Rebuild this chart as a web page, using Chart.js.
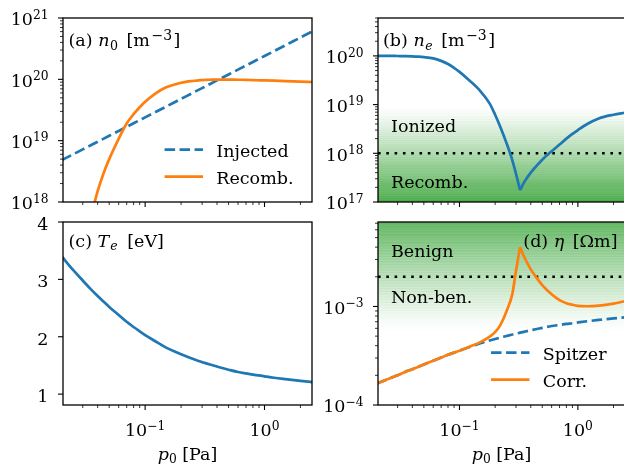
<!DOCTYPE html>
<html>
<head>
<meta charset="utf-8">
<title>n0, ne, Te, eta vs p0</title>
<script src="https://cdn.jsdelivr.net/npm/chart.js@4.4.1/dist/chart.umd.min.js"></script>
<style>
  html, body { margin: 0; padding: 0; background: #fff; }
  #fig { position: relative; width: 624px; height: 468px; overflow: hidden; }
  #fig canvas { position: absolute; left: 0; top: 0; }
</style>
</head>
<body>
<div id="fig">
  <canvas id="chartN0" width="640" height="468"></canvas>
  <canvas id="chartNe" width="640" height="468"></canvas>
  <canvas id="chartTe" width="640" height="468"></canvas>
  <canvas id="chartEta" width="640" height="468"></canvas>
</div>
<script>
// pressure p0 [Pa] (x axis of every panel)
const pressure = [0.02, 0.025, 0.03, 0.035, 0.04, 0.045, 0.05, 0.06, 0.07, 0.08, 0.09, 0.1,
    0.12, 0.15, 0.18, 0.2, 0.22, 0.25, 0.28, 0.3, 0.325, 0.35, 0.4, 0.45, 0.5, 0.6, 0.7, 0.8,
    0.9, 1.0, 1.2, 1.5, 2.0, 2.5];

// (a) neutral density [m^-3]
const n0Injected = [4.8e18, 6.0e18, 7.2e18, 8.4e18, 9.6e18, 1.08e19, 1.2e19, 1.44e19, 1.68e19,
    1.92e19, 2.16e19, 2.4e19, 2.88e19, 3.6e19, 4.32e19, 4.8e19, 5.28e19, 6.0e19, 6.72e19, 7.2e19,
    7.8e19, 8.4e19, 9.6e19, 1.08e20, 1.2e20, 1.44e20, 1.68e20, 1.92e20, 2.16e20, 2.4e20, 2.88e20,
    3.6e20, 4.8e20, 6.0e20];
const n0Recomb = [null, null, null, 5.6e17, 1.5e18, 3.0e18, 5.0e18, 1.07e19, 1.9e19, 2.7e19,
    3.5e19, 4.3e19, 5.75e19, 7.4e19, 8.3e19, 8.8e19, 9.1e19, 9.4e19, 9.65e19, 9.7e19, 9.8e19,
    9.85e19, 9.9e19, 9.9e19, 9.9e19, 9.85e19, 9.8e19, 9.7e19, 9.65e19, 9.6e19, 9.5e19, 9.35e19,
    9.2e19, 9.05e19];

// (b) electron density [m^-3]
const neValues = [1.0e20, 1.0e20, 9.95e19, 9.9e19, 9.8e19, 9.65e19, 9.45e19, 8.9e19, 7.9e19,
    6.8e19, 5.7e19, 4.7e19, 3.2e19, 1.9e19, 1.05e19, 6.2e18, 3.6e18, 1.6e18, 7.1e17, 3.8e17,
    1.75e17, 2.5e17, 4.0e17, 5.6e17, 7.4e17, 1.1e18, 1.51e18, 2.0e18, 2.5e18, 3.0e18, 4.0e18,
    5.2e18, 6.2e18, 6.8e18];

// (c) electron temperature [eV]
const teValues = [3.40, 3.16, 2.98, 2.83, 2.71, 2.61, 2.52, 2.38, 2.26, 2.17, 2.095, 2.03, 1.93,
    1.81, 1.735, 1.695, 1.66, 1.615, 1.578, 1.558, 1.535, 1.515, 1.48, 1.45, 1.425, 1.385, 1.36,
    1.34, 1.325, 1.31, 1.285, 1.26, 1.23, 1.21];

// (d) resistivity [Ohm m]
const etaSpitzer = [1.645e-4, 1.84e-4, 2.00e-4, 2.17e-4, 2.31e-4, 2.45e-4, 2.58e-4, 2.81e-4,
    3.03e-4, 3.23e-4, 3.40e-4, 3.56e-4, 3.85e-4, 4.24e-4, 4.52e-4, 4.68e-4, 4.82e-4, 5.02e-4,
    5.20e-4, 5.30e-4, 5.42e-4, 5.53e-4, 5.73e-4, 5.90e-4, 6.07e-4, 6.33e-4, 6.50e-4, 6.65e-4,
    6.76e-4, 6.88e-4, 7.08e-4, 7.30e-4, 7.57e-4, 7.74e-4];
const etaCorr = [1.645e-4, 1.84e-4, 2.00e-4, 2.17e-4, 2.31e-4, 2.45e-4, 2.58e-4, 2.81e-4,
    3.03e-4, 3.23e-4, 3.40e-4, 3.56e-4, 3.88e-4, 4.35e-4, 4.95e-4, 5.5e-4, 6.4e-4, 9.0e-4,
    1.35e-3, 2.3e-3, 4.0e-3, 3.23e-3, 2.38e-3, 1.94e-3, 1.65e-3, 1.33e-3, 1.16e-3, 1.08e-3,
    1.04e-3, 1.015e-3, 1.005e-3, 1.02e-3, 1.07e-3, 1.13e-3];

// index of the sharp corner (minimum of n_e / peak of eta)
const cornerIndex = 20;

// tick labels (powers of ten as exponents)
const xTickExp = [-1, 0];
const n0TickExp = [18, 19, 20, 21];
const neTickExp = [17, 18, 19, 20];
const teTicks = [1, 2, 3, 4];
const etaTickExp = [-4, -3];

// thresholds (dotted lines)
const neThreshold = 1e18;
const etaThreshold = 2e-3;

const BLUE = '#1f77b4';
const ORANGE = '#ff7f0e';
const FONT = '"DejaVu Serif", serif';
const FS = 17.5;
const MINUS = '\u2212';

function font(size, italic) {
    return (italic ? 'italic ' : '') + size + 'px ' + FONT;
}

// text with sub/superscripts: segs = [{t, it, sub, sup, sc, pad}]
function richText(ctx, x, y, segs, align) {
    const parts = segs.map(s => {
        const sz = (s.sub || s.sup) ? FS * (s.sc || 0.7) : FS;
        ctx.font = font(sz, s.it);
        return { s: s, sz: sz, w: ctx.measureText(s.t).width + (s.pad || 0) };
    });
    const total = parts.reduce((acc, p) => acc + p.w, 0);
    let cx = align === 'right' ? x - total : align === 'center' ? x - total / 2 : x;
    ctx.textAlign = 'left';
    ctx.textBaseline = 'alphabetic';
    ctx.fillStyle = '#000';
    parts.forEach(p => {
        ctx.font = font(p.sz, p.s.it);
        const dy = p.s.sub ? FS * 0.2 : p.s.sup ? -FS * 0.37 : 0;
        ctx.fillText(p.s.t, cx, y + dy);
        cx += p.w;
    });
    return total;
}

function pow10(e) {
    return [{ t: '10' }, { t: String(e).replace('-', MINUS), sup: true }];
}

function textWidth(ctx, str) {
    ctx.font = font(FS);
    return ctx.measureText(str).width;
}

// 1..9 x 10^n positions inside the range
function logTicks(min, max) {
    const out = [];
    for (let e = Math.floor(Math.log10(min)); e <= Math.ceil(Math.log10(max)); e++) {
        for (let k = 1; k <= 9; k++) {
            const v = k * Math.pow(10, e);
            if (v >= min * 0.9999 && v <= max * 1.0001) out.push({ v: v, major: k === 1 });
        }
    }
    return out;
}

const decoPlugin = {
    id: 'deco',
    beforeDatasetsDraw(chart, args, o) {
        const ctx = chart.ctx, a = chart.chartArea, ys = chart.scales.y;
        ctx.save();
        ctx.beginPath();
        ctx.rect(a.left, a.top, a.right - a.left, a.bottom - a.top);
        ctx.clip();
        // green gradient made of thin bands (with faint stripes at the band edges)
        if (o.shade) {
            const l0 = Math.log10(o.shade[0]), l1 = Math.log10(o.shade[1]);
            const n = 46;
            for (let i = 0; i < n; i++) {
                const p0 = ys.getPixelForValue(Math.pow(10, l0 + (l1 - l0) * i / n));
                const p1 = ys.getPixelForValue(Math.pow(10, l0 + (l1 - l0) * (i + 1) / n));
                const f = (i + 0.5) / n;
                const alpha = 0.85 * Math.pow(1 - f, 1.3);
                ctx.fillStyle = 'rgba(44,160,44,' + alpha.toFixed(3) + ')';
                ctx.fillRect(a.left, Math.min(p0, p1), a.right - a.left, Math.abs(p1 - p0));
                ctx.strokeStyle = 'rgba(44,140,44,' + (alpha * 0.45).toFixed(3) + ')';
                ctx.lineWidth = 0.8;
                ctx.beginPath();
                ctx.moveTo(a.left, p1);
                ctx.lineTo(a.right, p1);
                ctx.stroke();
            }
        }
        // dotted threshold
        if (o.threshold) {
            const py = ys.getPixelForValue(o.threshold);
            ctx.strokeStyle = '#000';
            ctx.lineWidth = 2.6;
            ctx.setLineDash([2.6, 5.7]);
            ctx.beginPath();
            ctx.moveTo(a.left, py);
            ctx.lineTo(a.right, py);
            ctx.stroke();
            ctx.setLineDash([]);
        }
        ctx.restore();
    },
    afterDraw(chart, args, o) {
        const ctx = chart.ctx, a = chart.chartArea;
        const xs = chart.scales.x, ys = chart.scales.y;
        ctx.save();
        ctx.strokeStyle = '#000';

        // x ticks
        logTicks(xs.min, xs.max).forEach(t => {
            const px = xs.getPixelForValue(t.v);
            ctx.lineWidth = t.major ? 1.1 : 0.8;
            ctx.beginPath();
            ctx.moveTo(px, a.bottom);
            ctx.lineTo(px, a.bottom + (t.major ? 5 : 3));
            ctx.stroke();
        });
        // y ticks
        const yt = ys.type === 'logarithmic' ? logTicks(ys.min, ys.max)
            : o.yTicks.map(v => ({ v: v, major: true }));
        yt.forEach(t => {
            const py = ys.getPixelForValue(t.v);
            ctx.lineWidth = t.major ? 1.1 : 0.8;
            ctx.beginPath();
            ctx.moveTo(a.left, py);
            ctx.lineTo(a.left - (t.major ? 5 : 3), py);
            ctx.stroke();
        });

        // frame
        ctx.lineWidth = 1.3;
        ctx.strokeRect(a.left, a.top, a.right - a.left, a.bottom - a.top);

        // tick labels
        if (o.xLabels) {
            xTickExp.forEach(e => {
                richText(ctx, xs.getPixelForValue(Math.pow(10, e)), a.bottom + 31, pow10(e), 'center');
            });
            richText(ctx, (a.left + a.right) / 2, 459.5,
                [{ t: 'p', it: true }, { t: '0', sub: true }, { t: ' [Pa]' }], 'center');
        }
        if (ys.type === 'logarithmic') {
            o.yTicks.forEach(e => {
                richText(ctx, a.left - 14.5, ys.getPixelForValue(Math.pow(10, e)) + 7.3, pow10(e), 'right');
            });
        } else {
            o.yTicks.forEach(v => {
                richText(ctx, a.left - 14.5, ys.getPixelForValue(v) + 7.8, [{ t: String(v) }], 'right');
            });
        }

        // panel title and region labels
        (o.texts || []).forEach(tx => {
            const y = tx.fromThreshold ? ys.getPixelForValue(o.threshold) + tx.dy : a.top + tx.dy;
            richText(ctx, a.left + tx.dx, y, tx.segs, 'left');
        });

        // legend (lower right)
        if (o.legend) {
            const sets = chart.data.datasets.filter(d => !d.noLegend);
            const maxW = Math.max.apply(null, sets.map(d => textWidth(ctx, d.label)));
            const tx = a.right - 18.5 - maxW;
            sets.forEach((d, i) => {
                const ly = a.bottom - 52.3 + i * 27;
                ctx.strokeStyle = d.borderColor;
                ctx.lineWidth = d.borderWidth;
                ctx.setLineDash(d.borderDash || []);
                ctx.beginPath();
                ctx.moveTo(tx - 13.3 - 38.4, ly);
                ctx.lineTo(tx - 13.3, ly);
                ctx.stroke();
                ctx.setLineDash([]);
                richText(ctx, tx, ly + 6.8, [{ t: d.label }], 'left');
            });
        }
        ctx.restore();
    }
};

function series(values, from, to) {
    const pts = pressure.map((p, i) => ({ x: p, y: values[i] }));
    return pts.slice(from || 0, to === undefined ? pts.length : to);
}

function line(label, data, color, dashed, order) {
    return {
        label: label,
        data: data,
        borderColor: color,
        borderWidth: 2.7,
        borderDash: dashed ? [10.5, 4.5] : [],
        pointRadius: 0,
        cubicInterpolationMode: 'monotone',
        fill: false,
        clip: 0,
        order: order
    };
}

// curve with a sharp corner: two smooth pieces meeting at cornerIndex
function cornered(label, values, color, order) {
    const left = line(label, series(values, 0, cornerIndex + 1), color, false, order);
    const right = line(label, series(values, cornerIndex), color, false, order);
    right.noLegend = true;
    return [left, right];
}

// area = [left, top, right, bottom] of the plot box in page pixels
function makeChart(id, area, yScale, datasets, deco) {
    return new Chart(document.getElementById(id), {
        type: 'line',
        data: { datasets: datasets },
        options: {
            responsive: false,
            animation: false,
            events: [],
            layout: { padding: { left: area[0], top: area[1], right: 640 - area[2], bottom: 468 - area[3] } },
            scales: {
                x: { type: 'logarithmic', min: 0.0205, max: 2.5, display: false },
                y: Object.assign({ display: false }, yScale)
            },
            plugins: { legend: { display: false }, tooltip: { enabled: false }, deco: deco }
        },
        plugins: [decoPlugin]
    });
}

makeChart('chartN0', [63, 18, 312, 202],
    { type: 'logarithmic', min: 1e18, max: 1e21 },
    [line('Injected', series(n0Injected), BLUE, true, 1), line('Recomb.', series(n0Recomb), ORANGE, false, 0)],
    {
        yTicks: n0TickExp, legend: true,
        texts: [{ dx: 5.5, dy: 28, segs: [{ t: '(a) ' }, { t: 'n', it: true, pad: 0.5 },
            { t: '0', sub: true, sc: 0.72, pad: 3 }, { t: ' [m', pad: 1.5 },
            { t: MINUS + '3', sup: true, sc: 0.8, pad: 1.5 }, { t: ']' }] }]
    });

makeChart('chartNe', [378, 18, 625, 202],
    { type: 'logarithmic', min: 1e17, max: 6e20 },
    cornered('n_e', neValues, BLUE, 0),
    {
        yTicks: neTickExp, threshold: neThreshold, shade: [1e17, 1e19],
        texts: [
            { dx: 5, dy: 28, segs: [{ t: '(b) ' }, { t: 'n', it: true, pad: 0.5 },
                { t: 'e', sub: true, it: true, sc: 0.72, pad: 3 }, { t: ' [m', pad: 1.5 },
                { t: MINUS + '3', sup: true, sc: 0.8, pad: 1.5 }, { t: ']' }] },
            { dx: 13, dy: -21, fromThreshold: true, segs: [{ t: 'Ionized' }] },
            { dx: 13, dy: 35, fromThreshold: true, segs: [{ t: 'Recomb.' }] }
        ]
    });

makeChart('chartTe', [63, 222, 312, 405],
    { type: 'linear', min: 0.81, max: 4 },
    [line('T_e', series(teValues), BLUE, false, 0)],
    {
        yTicks: teTicks, xLabels: true,
        texts: [{ dx: 5.5, dy: 24.7, segs: [{ t: '(c) ' }, { t: 'T', it: true, pad: 1 },
            { t: 'e', sub: true, it: true, sc: 0.72, pad: 4 }, { t: ' [eV]' }] }]
    });

makeChart('chartEta', [378, 222, 625, 405],
    { type: 'logarithmic', min: 1e-4, max: 7.2e-3 },
    [line('Spitzer', series(etaSpitzer), BLUE, true, 1)].concat(cornered('Corr.', etaCorr, ORANGE, 0)),
    {
        yTicks: etaTickExp, xLabels: true, legend: true,
        threshold: etaThreshold, shade: [1e-2, 5.5e-4],
        texts: [
            { dx: 145.3, dy: 25.3, segs: [{ t: '(d) ' }, { t: '\u03b7', it: true, pad: 3 },
                { t: ' [\u03a9m]' }] },
            { dx: 13, dy: -19.8, fromThreshold: true, segs: [{ t: 'Benign' }] },
            { dx: 13, dy: 26.2, fromThreshold: true, segs: [{ t: 'Non-ben.' }] }
        ]
    });
</script>
</body>
</html>
